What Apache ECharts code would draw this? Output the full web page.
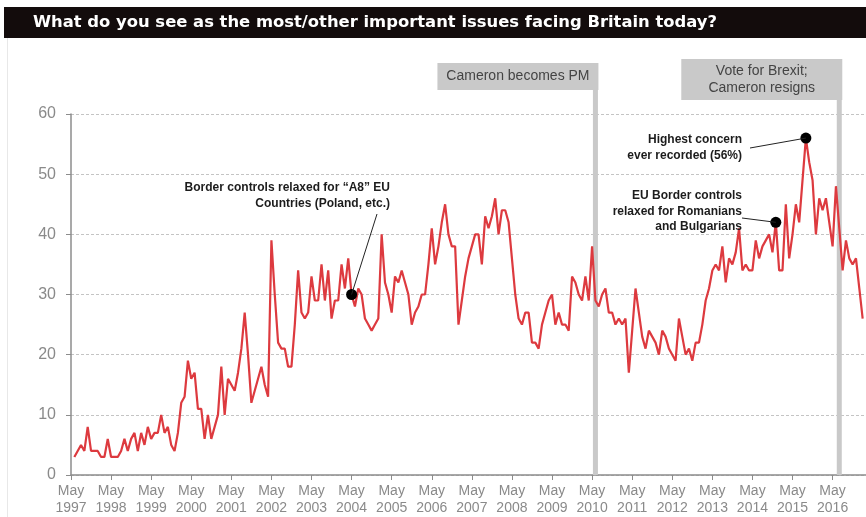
<!DOCTYPE html>
<html>
<head>
<meta charset="utf-8">
<script src="https://cdn.jsdelivr.net/npm/echarts@6/dist/echarts.min.js"></script>
<style>
  html, body { margin: 0; padding: 0; background: #fff; }
  #chart { width: 866px; height: 517px; }
</style>
</head>
<body>
<div id="chart"></div>
<script>
// month index counted from May 1997 (0 = May 1997), first reading is June 1997
const firstMonth = 1;
const concern = [
  3, 4, 5, 4, 8, 4, 4, 4, 3, 3,
  6, 3, 3, 3, 4, 6, 4, 6, 7, 4,
  7, 5, 8, 6, 7, 7, 10, 7, 8, 5,
  4, 7, 12, 13, 19, 16, 17, 11, 11, 6,
  10, 6, 8, 10, 18, 10, 16, 15, 14, 17,
  21, 27, 20, 12, 14, 16, 18, 15, 13, 39,
  30, 22, 21, 21, 18, 18, 25, 34, 27, 26,
  27, 33, 29, 29, 35, 29, 34, 26, 29, 29,
  35, 31, 36, 30, 28, 31, 30, 26, 25, 24,
  25, 26, 40, 32, 30, 27, 33, 32, 34, 32,
  30, 25, 27, 28, 30, 30, 35, 41, 35, 38,
  42, 45, 40, 38, 38, 25, 29, 33, 36, 38,
  40, 40, 35, 43, 41, 43, 46, 40, 44, 44,
  42, 36, 30, 26, 25, 27, 27, 22, 22, 21,
  25, 27, 29, 30, 25, 27, 25, 25, 24, 33,
  32, 30, 29, 33, 29, 38, 29, 28, 30, 31,
  27, 27, 25, 26, 25, 26, 17, 24, 31, 27,
  23, 21, 24, 23, 22, 20, 24, 23, 21, 20,
  19, 26, 23, 20, 21, 19, 22, 22, 25, 29,
  31, 34, 35, 34, 38, 32, 36, 35, 37, 41,
  34, 35, 34, 34, 39, 36, 38, 39, 40, 37,
  42, 34, 34, 45, 36, 40, 45, 42, 49, 56,
  52, 49, 40, 46, 44, 46, 42, 38, 48, 41,
  34, 39, 36, 35, 36, 31, 26
];
const tickYears = [1997, 1998, 1999, 2000, 2001, 2002, 2003, 2004, 2005, 2006,
  2007, 2008, 2009, 2010, 2011, 2012, 2013, 2014, 2015, 2016];

// events shown as grey flags
const eventMonths = [157, 230];
const eventLabels = ['Cameron becomes PM', 'Vote for Brexit;\nCameron resigns'];

// highlighted readings
const noteMonths = [84, 211, 220];
const noteValues = [30, 42, 56];
const noteLabels = [
  'Border controls relaxed for \u201cA8\u201d EU\nCountries (Poland, etc.)',
  'EU Border controls\nrelaxed for Romanians\nand Bulgarians',
  'Highest concern\never recorded (56%)'
];

const titleText = 'What do you see as the most/other important issues facing Britain today?';

const lineData = concern.map((v, i) => [i + firstMonth, v]);
const dotData = noteMonths.map((m, i) => [m, noteValues[i]]);

const chart = echarts.init(document.getElementById('chart'));

const option = {
  animation: false,
  grid: { left: 71, right: 0, top: 114, bottom: 41 },
  xAxis: {
    type: 'value',
    min: 0,
    max: 238,
    interval: 12,
    axisLine: { lineStyle: { color: '#8c8c8c', width: 1.5 } },
    axisTick: { length: 5, lineStyle: { color: '#8c8c8c' } },
    axisLabel: {
      formatter: v => (v % 12 === 0 ? 'May\n' + tickYears[v / 12] : ''),
      color: '#8a8a8a',
      fontFamily: 'Liberation Sans',
      fontSize: 14,
      lineHeight: 17,
      margin: 8,
      showMaxLabel: false
    },
    splitLine: { show: false }
  },
  yAxis: {
    type: 'value',
    min: 0,
    max: 60,
    interval: 10,
    axisLine: { show: true, lineStyle: { color: '#8c8c8c', width: 1.5 } },
    axisTick: { show: true, length: 5, lineStyle: { color: '#8c8c8c' } },
    axisLabel: { color: '#8a8a8a', fontFamily: 'Liberation Sans', fontSize: 16, margin: 15 },
    splitLine: { lineStyle: { type: [3, 2], color: '#c4c4c4' } }
  },
  series: [
    {
      type: 'line',
      data: lineData,
      symbol: 'none',
      lineStyle: { color: '#dd3a3f', width: 2.2 },
      z: 3
    },
    {
      type: 'scatter',
      data: dotData,
      symbolSize: 11,
      itemStyle: { color: '#000', opacity: 1 },
      z: 5
    }
  ]
};
chart.setOption(option);

const px = (m, v) => chart.convertToPixel({ gridIndex: 0 }, [m, v]);
const axisY = px(0, 0)[1];

const graphics = [
  { type: 'rect', shape: { x: 7, y: 38, width: 1, height: 480 }, style: { fill: '#e8e8e8' } },
  { type: 'rect', shape: { x: 4, y: 7, width: 862, height: 31 }, style: { fill: '#130c0c' } },
  {
    type: 'text', x: 33, y: 23,
    style: { text: titleText, fill: '#fff', font: 'bold 16.4px "DejaVu Sans"', verticalAlign: 'middle' }
  }
];

// grey flags: box over a vertical bar
const boxes = [{ top: 63, h: 27 }, { top: 59, h: 41 }];
eventMonths.forEach((m, i) => {
  const x = px(m, 0)[0];
  const b = boxes[i];
  graphics.push({
    type: 'rect', z: 1,
    shape: { x: x - 2.5, y: b.top + b.h, width: 5, height: axisY - b.top - b.h },
    style: { fill: '#c9c9c9' }
  });
  graphics.push({
    type: 'rect', z: 1,
    shape: { x: x + 3 - 161, y: b.top, width: 161, height: b.h },
    style: { fill: '#c9c9c9' }
  });
  graphics.push({
    type: 'text', z: 1, x: x + 3 - 80.5, y: b.top + b.h / 2,
    style: {
      text: eventLabels[i], fill: '#444', font: '14px "Liberation Sans"',
      align: 'center', verticalAlign: 'middle', lineHeight: 17
    }
  });
});

// annotation texts and leader lines
const notePos = [
  { x: 390, y: 180, from: [377, 214] },
  { x: 742, y: 188, from: [742, 218] },
  { x: 742, y: 132, from: [750, 148] }
];
noteLabels.forEach((t, i) => {
  const p = notePos[i];
  const d = px(noteMonths[i], noteValues[i]);
  graphics.push({
    type: 'text', z: 10, x: p.x, y: p.y,
    style: { text: t, fill: '#1c1c1c', font: 'bold 12px "Liberation Sans"', align: 'right', verticalAlign: 'top', lineHeight: 15.5 }
  });
  graphics.push({
    type: 'line', z: 10,
    shape: { x1: p.from[0], y1: p.from[1], x2: d[0], y2: d[1] },
    style: { stroke: '#222', lineWidth: 1 }
  });
});

chart.setOption({ graphic: graphics });
</script>
</body>
</html>
